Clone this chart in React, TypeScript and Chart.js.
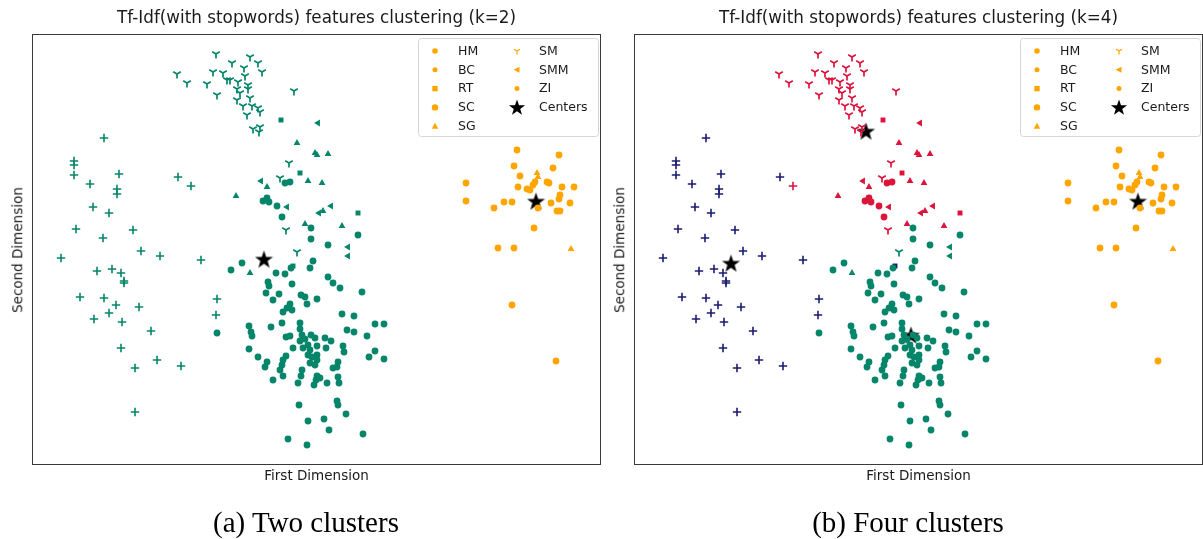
import React, { useEffect, useRef } from "react";
import { Chart, registerables } from "chart.js";

Chart.register(...registerables);

type Pt = [number, number];

// ---------- data (k=4 cluster membership x marker category) ----------
const RED_SM: Pt[] = [
  [183, 410], [217, 407], [199, 401], [225, 401], [211, 396], [144, 390], [180, 392], [190, 391],
  [229, 392], [212, 388], [197, 384], [194, 384], [205, 382], [154, 381], [174, 380], [215, 379],
  [204, 375], [207, 371], [215, 375], [184, 369], [204, 364], [217, 366], [210, 358], [219, 358],
  [225, 356], [227, 352], [214, 349], [261, 373], [220, 335], [227, 337], [226, 332], [256, 301],
  [247, 286], [253, 234],
];
const RED_RT: Pt[] = [[248, 344], [267, 291], [325, 251]];
const RED_SMM: Pt[] = [[285, 341], [228, 283], [254, 257], [298, 258], [286, 251]];
const RED_SG: Pt[] = [
  [264, 321], [282, 311], [284, 309], [295, 310], [234, 277], [275, 283], [289, 281], [203, 268],
  [272, 240], [309, 238], [290, 253],
];
const RED_CIRC: Pt[] = [[252, 281], [257, 282], [230, 263], [234, 266], [236, 262], [244, 258], [249, 247]];
const RED_PLUS: Pt[] = [[158, 278]];

const BLUE_PLUS: Pt[] = [
  [71, 326], [41, 303], [41, 299], [41, 289], [86, 290], [57, 280], [84, 275], [84, 270], [145, 287],
  [60, 257], [76, 251], [43, 235], [100, 234], [70, 226], [108, 213], [127, 208], [168, 204], [28, 206],
  [64, 193], [79, 195], [88, 191], [91, 183], [91, 181], [47, 167], [71, 166], [83, 159], [106, 157],
  [76, 151], [61, 145], [89, 142], [118, 133], [88, 116], [124, 104], [102, 96], [148, 98], [102, 52],
  [184, 165], [183, 149],
];
const BLUE_RT: Pt[] = [[260, 198]];

const GREEN_CIRC: Pt[] = [
  [278, 236], [278, 225], [295, 219], [325, 229], [198, 194], [209, 201], [280, 203], [277, 196],
  [258, 196], [243, 191], [252, 190], [295, 187], [300, 181], [307, 176], [235, 182], [236, 178],
  [259, 180], [233, 171], [246, 170], [240, 164], [268, 169], [272, 167], [274, 160], [284, 165],
  [329, 172], [257, 160], [254, 156], [250, 152], [259, 154], [309, 150], [321, 148], [216, 138],
  [218, 132], [219, 128], [238, 137], [249, 141], [267, 141], [267, 135], [342, 140], [351, 140],
  [314, 134], [321, 132], [334, 128], [253, 127], [257, 128], [269, 129], [272, 125], [278, 129],
  [282, 126], [292, 126], [298, 123], [267, 123], [216, 115], [260, 116], [270, 116], [275, 119],
  [277, 114], [284, 118], [293, 116], [310, 118], [311, 112], [342, 113], [336, 107], [351, 105],
  [225, 107], [234, 102], [232, 97], [253, 108], [250, 104], [249, 99], [275, 109], [279, 107],
  [284, 109], [284, 104], [277, 101], [282, 99], [305, 102], [304, 97], [300, 96], [247, 94],
  [250, 88], [269, 94], [268, 88], [240, 84], [265, 81], [284, 88], [283, 84], [281, 79], [287, 86],
  [294, 81], [305, 87], [306, 81], [304, 63], [305, 59], [266, 59], [313, 50], [275, 43], [291, 45],
  [296, 34], [330, 30], [255, 25], [274, 19], [184, 131],
];
const GREEN_SMM: Pt[] = [[315, 217], [315, 208]];
const GREEN_SM: Pt[] = [[264, 212]];
const GREEN_SG: Pt[] = [[217, 191]];

const ORANGE_CIRC: Pt[] = [
  [484, 314], [526, 309], [481, 298], [520, 296], [487, 288], [502, 282], [500, 279], [514, 282],
  [516, 281], [433, 281], [485, 277], [494, 275], [497, 274], [529, 277], [541, 277], [527, 269],
  [526, 265], [433, 263], [471, 262], [479, 262], [518, 261], [537, 261], [461, 256], [505, 256],
  [524, 253], [527, 253], [501, 236], [465, 216], [481, 216], [479, 159], [523, 103],
];
const ORANGE_SG: Pt[] = [[504, 291], [505, 287], [538, 215]];

const CENTERS_K2: Pt[] = [[231, 205], [503, 263]];
const CENTERS_K4: Pt[] = [[96, 201], [231, 333], [276, 129], [503, 263]];

const X_MIN = 0;
const X_MAX = 567;
const Y_MIN = 0;
const Y_MAX = 429;

const LEGEND_LABELS = ["HM", "BC", "RT", "SC", "SG", "SM", "SMM", "ZI", "Centers"];
const LEGEND_MARKERS = ["hex", "dot", "rect", "circle", "triangle", "tri", "left", "dot", "star"];

const TITLE_K2 = "Tf-Idf(with stopwords) features clustering (k=2)";
const TITLE_K4 = "Tf-Idf(with stopwords) features clustering (k=4)";
const X_LABEL = "First Dimension";
const Y_LABEL = "Second Dimension";
const CAPTION_A = "(a) Two clusters";
const CAPTION_B = "(b) Four clusters";

const COLORS: Record<string, string> = {
  green: "#05856a",
  orange: "#ffa500",
  red: "#dc143c",
  blue: "#1c1c72",
};

type Group = { pts: Pt[]; cluster: string; marker: string };

const GROUPS: Group[] = [
  { pts: GREEN_CIRC, cluster: "green", marker: "circle" },
  { pts: RED_CIRC, cluster: "red", marker: "circle" },
  { pts: ORANGE_CIRC, cluster: "orange", marker: "circle" },
  { pts: RED_RT, cluster: "red", marker: "rect" },
  { pts: BLUE_RT, cluster: "blue", marker: "rect" },
  { pts: RED_SG, cluster: "red", marker: "triangle" },
  { pts: GREEN_SG, cluster: "green", marker: "triangle" },
  { pts: ORANGE_SG, cluster: "orange", marker: "triangle" },
  { pts: RED_SM, cluster: "red", marker: "tri" },
  { pts: GREEN_SM, cluster: "green", marker: "tri" },
  { pts: RED_SMM, cluster: "red", marker: "left" },
  { pts: GREEN_SMM, cluster: "green", marker: "left" },
  { pts: BLUE_PLUS, cluster: "blue", marker: "plus" },
  { pts: RED_PLUS, cluster: "red", marker: "plus" },
];

function makeTri(color: string, size: number): HTMLCanvasElement {
  const c = document.createElement("canvas");
  c.width = size;
  c.height = size;
  const g = c.getContext("2d")!;
  const m = size / 2;
  const r = m - 0.6;
  g.strokeStyle = color;
  g.lineWidth = 1.7;
  g.beginPath();
  g.moveTo(m, m);
  g.lineTo(m, m + r);
  g.moveTo(m, m);
  g.lineTo(m - r * 0.866, m - r * 0.5);
  g.moveTo(m, m);
  g.lineTo(m + r * 0.866, m - r * 0.5);
  g.stroke();
  return c;
}

function starPath(g: CanvasRenderingContext2D, cx: number, cy: number, R: number) {
  const r = R * 0.4;
  g.beginPath();
  for (let i = 0; i < 10; i++) {
    const rad = i % 2 === 0 ? R : r;
    const ang = -Math.PI / 2 + (i * Math.PI) / 5;
    const x = cx + rad * Math.cos(ang);
    const y = cy + rad * Math.sin(ang);
    if (i === 0) g.moveTo(x, y);
    else g.lineTo(x, y);
  }
  g.closePath();
}

function makeStar(size: number): HTMLCanvasElement {
  const c = document.createElement("canvas");
  c.width = size;
  c.height = size;
  const g = c.getContext("2d")!;
  g.fillStyle = "#000";
  starPath(g, size / 2, size / 2 + size * 0.05, size / 2);
  g.fill();
  return c;
}

function drawLegendMarker(g: CanvasRenderingContext2D, kind: string, x: number, y: number) {
  const col = COLORS.orange;
  g.save();
  g.fillStyle = col;
  g.strokeStyle = col;
  if (kind === "hex" || kind === "dot") {
    g.beginPath();
    g.arc(x, y, kind === "hex" ? 2.8 : 2.5, 0, Math.PI * 2);
    g.fill();
  } else if (kind === "circle") {
    g.beginPath();
    g.arc(x, y, 3.2, 0, Math.PI * 2);
    g.fill();
  } else if (kind === "rect") {
    g.fillRect(x - 2.7, y - 2.7, 5.4, 5.4);
  } else if (kind === "triangle") {
    g.beginPath();
    g.moveTo(x, y - 3.5);
    g.lineTo(x + 3.2, y + 2.5);
    g.lineTo(x - 3.2, y + 2.5);
    g.closePath();
    g.fill();
  } else if (kind === "left") {
    g.beginPath();
    g.moveTo(x - 3.5, y);
    g.lineTo(x + 2.5, y - 3);
    g.lineTo(x + 2.5, y + 3);
    g.closePath();
    g.fill();
  } else if (kind === "tri") {
    g.lineWidth = 1.2;
    g.beginPath();
    g.moveTo(x, y);
    g.lineTo(x, y + 3.5);
    g.moveTo(x, y);
    g.lineTo(x - 3, y - 1.8);
    g.moveTo(x, y);
    g.lineTo(x + 3, y - 1.8);
    g.stroke();
  } else if (kind === "star") {
    g.fillStyle = "#000";
    starPath(g, x, y + 0.5, 8.5);
    g.fill();
  }
  g.restore();
}

const framePlugin = {
  id: "frameAndLegend",
  afterDatasetsDraw(chart: any) {
    const { ctx, chartArea: a } = chart;
    ctx.save();
    ctx.strokeStyle = "#3a3a3a";
    ctx.lineWidth = 1;
    ctx.strokeRect(a.left - 0.5, a.top - 0.5, a.right - a.left + 1, a.bottom - a.top + 1);

    const lx = a.left + 385;
    const ly = a.top + 3;
    const lw = 180;
    const lh = 98;
    ctx.beginPath();
    ctx.roundRect(lx + 0.5, ly + 0.5, lw, lh, 3);
    ctx.fillStyle = "rgba(255,255,255,0.85)";
    ctx.fill();
    ctx.strokeStyle = "#d6d6d6";
    ctx.stroke();

    ctx.font = '12.5px "DejaVu Sans"';
    ctx.textBaseline = "middle";
    ctx.fillStyle = "#1a1a1a";
    LEGEND_LABELS.forEach((lab, i) => {
      const col = i < 5 ? 0 : 1;
      const row = i < 5 ? i : i - 5;
      const my = ly + 13 + row * 18.8;
      const mx = lx + (col === 0 ? 17 : 99);
      drawLegendMarker(ctx, LEGEND_MARKERS[i], mx, my);
      ctx.fillText(lab, lx + (col === 0 ? 40 : 121), my + 0.5);
    });
    ctx.restore();
  },
};

function colorFor(cluster: string, k: number): string {
  if (k === 2) return cluster === "orange" ? COLORS.orange : COLORS.green;
  return COLORS[cluster];
}

function buildDatasets(k: number) {
  const triCache: Record<string, HTMLCanvasElement> = {};
  const ds: any[] = GROUPS.map((gr) => {
    const color = colorFor(gr.cluster, k);
    const base: any = {
      data: gr.pts.map(([x, y]) => ({ x, y })),
      backgroundColor: color,
      borderColor: color,
      pointBorderWidth: 0,
      pointRadius: 3.4,
      pointRotation: 0,
      pointStyle: "circle",
    };
    if (gr.marker === "rect") {
      base.pointStyle = "rect";
      base.pointRadius = 3.5;
    } else if (gr.marker === "triangle") {
      base.pointStyle = "triangle";
      base.pointRadius = 3.9;
    } else if (gr.marker === "left") {
      base.pointStyle = "triangle";
      base.pointRadius = 3.9;
      base.pointRotation = -90;
    } else if (gr.marker === "plus") {
      base.pointStyle = "cross";
      base.pointRadius = 4.2;
      base.pointBorderWidth = 1.6;
    } else if (gr.marker === "tri") {
      if (!triCache[color]) triCache[color] = makeTri(color, 10);
      base.pointStyle = triCache[color];
      base.pointRadius = 4;
    }
    return base;
  });
  const star = makeStar(19);
  const centers = k === 2 ? CENTERS_K2 : CENTERS_K4;
  ds.push({
    data: centers.map(([x, y]) => ({ x, y })),
    pointStyle: star,
    pointRadius: 8,
    backgroundColor: "#000",
    borderColor: "#000",
  });
  return ds;
}

const CANVAS_W = 587;
const CANVAS_H = 449;
const PAD = 10;

function ScatterPanel({ k, areaLeft, title }: { k: number; areaLeft: number; title: string }) {
  const ref = useRef<HTMLCanvasElement | null>(null);
  useEffect(() => {
    if (!ref.current) return;
    const chart = new Chart(ref.current, {
      type: "scatter",
      data: { datasets: buildDatasets(k) },
      options: {
        responsive: false,
        animation: false,
        devicePixelRatio: 1,
        events: [],
        layout: { padding: PAD },
        plugins: { legend: { display: false }, tooltip: { enabled: false }, title: { display: false } },
        scales: {
          x: { type: "linear", min: X_MIN, max: X_MAX, display: false },
          y: { type: "linear", min: Y_MIN, max: Y_MAX, display: false },
        },
      },
      plugins: [framePlugin],
    } as any);
    return () => chart.destroy();
  }, [k]);

  const areaTop = 35;
  const areaW = CANVAS_W - 2 * PAD;
  const areaH = CANVAS_H - 2 * PAD;
  const cx = areaLeft + areaW / 2;
  const textBase: React.CSSProperties = {
    position: "absolute",
    whiteSpace: "nowrap",
    color: "#1a1a1a",
    fontFamily: '"DejaVu Sans", sans-serif',
    lineHeight: 1,
  };
  return (
    <>
      <canvas
        ref={ref}
        width={CANVAS_W}
        height={CANVAS_H}
        style={{ position: "absolute", left: areaLeft - PAD, top: areaTop - PAD, width: CANVAS_W, height: CANVAS_H }}
      />
      <div style={{ ...textBase, left: cx, top: 17, fontSize: 16.8, transform: "translate(-50%,-50%)" }}>{title}</div>
      <div style={{ ...textBase, left: cx, top: areaTop + areaH + 12, fontSize: 13.5, transform: "translate(-50%,-50%)" }}>
        {X_LABEL}
      </div>
      <div
        style={{
          ...textBase,
          left: areaLeft - 15,
          top: areaTop + areaH / 2,
          fontSize: 13.5,
          transform: "translate(-50%,-50%) rotate(-90deg)",
        }}
      >
        {Y_LABEL}
      </div>
    </>
  );
}

export default function App() {
  const capStyle: React.CSSProperties = {
    position: "absolute",
    top: 522,
    transform: "translate(-50%,-50%)",
    fontFamily: '"Liberation Serif", "Times New Roman", serif',
    fontSize: 29,
    color: "#000",
    whiteSpace: "nowrap",
    lineHeight: 1,
  };
  return (
    <div style={{ position: "relative", width: 1203, height: 539, overflow: "hidden", background: "#fff" }}>
      <style>{"body{margin:0}"}</style>
      <ScatterPanel k={2} areaLeft={33} title={TITLE_K2} />
      <ScatterPanel k={4} areaLeft={635} title={TITLE_K4} />
      <div style={{ ...capStyle, left: 306 }}>{CAPTION_A}</div>
      <div style={{ ...capStyle, left: 908 }}>{CAPTION_B}</div>
    </div>
  );
}
